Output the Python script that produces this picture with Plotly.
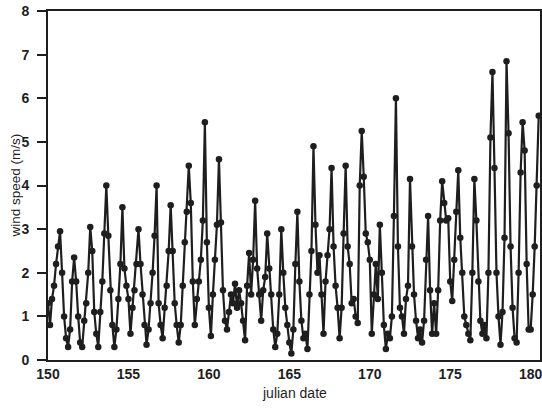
import plotly.graph_objects as go

# sampling: 3-hourly readings starting at julian day 150.0
start_day = 150.0
step_days = 0.125

# wind speed (m/s), 8 readings per day
speed = [
    # 150
    1.3, 0.8, 1.4, 1.7, 2.2, 2.6, 2.95, 2.0,
    # 151
    1.0, 0.5, 0.3, 0.7, 1.8, 2.35, 1.8, 1.0,
    # 152
    0.4, 0.3, 0.9, 1.3, 2.0, 3.05, 2.5, 1.1,
    # 153
    0.6, 0.3, 1.1, 1.8, 2.9, 4.0, 2.85, 1.6,
    # 154
    0.8, 0.3, 0.7, 1.4, 2.2, 3.5, 2.1, 1.7,
    # 155
    1.4, 0.6, 1.2, 1.6, 2.2, 3.0, 2.2, 1.5,
    # 156
    0.8, 0.35, 0.7, 1.3, 2.0, 2.85, 4.0, 1.3,
    # 157
    0.8, 0.5, 1.2, 1.7, 2.5, 3.55, 2.5, 1.3,
    # 158
    0.8, 0.4, 0.8, 1.7, 2.7, 3.4, 4.45, 3.6,
    # 159
    1.8, 0.8, 1.4, 1.8, 2.3, 3.2, 5.45, 2.7,
    # 160
    1.2, 0.55, 1.5, 2.3, 3.1, 4.6, 3.15, 1.6,
    # 161
    0.9, 0.7, 1.1, 1.5, 1.3, 1.75, 1.2, 1.6,
    # 162
    1.3, 0.9, 0.45, 1.7, 2.45, 1.5, 2.3, 3.65,
    # 163
    2.1, 1.5, 0.9, 1.6, 1.9, 2.9, 2.1, 1.5,
    # 164
    0.7, 0.3, 0.6, 1.5, 3.0, 2.0, 1.2, 0.8,
    # 165
    0.4, 0.15, 0.7, 2.2, 3.4, 1.8, 0.9, 0.5,
    # 166
    0.6, 0.25, 1.5, 2.5, 4.9, 3.1, 2.0, 2.4,
    # 167
    1.5, 0.6, 1.8, 2.4, 3.0, 4.4, 2.6, 1.7,
    # 168
    1.2, 0.5, 1.2, 2.9, 4.45, 2.6, 2.2, 1.3,
    # 169
    1.4, 1.0, 0.85, 4.0, 5.25, 4.2, 2.9, 2.7,
    # 170
    2.3, 0.6, 1.5, 2.2, 1.4, 3.1, 2.0, 0.8,
    # 171
    0.25, 0.6, 0.5, 1.0, 3.3, 6.0, 2.6, 1.2,
    # 172
    1.0, 0.6, 1.4, 1.7, 4.15, 2.6, 1.5, 0.9,
    # 173
    0.5, 0.7, 0.4, 0.9, 2.3, 3.3, 1.6, 0.6,
    # 174
    1.3, 0.6, 1.6, 3.2, 4.1, 3.6, 3.2, 3.25,
    # 175
    1.8, 1.35, 2.3, 3.4, 4.35, 2.8, 2.0, 1.0,
    # 176
    0.8, 0.6, 0.45, 2.0, 4.15, 3.2, 1.8, 0.9,
    # 177
    0.6, 0.8, 0.5, 2.0, 5.1, 6.6, 4.4, 2.0,
    # 178
    1.0, 0.35, 1.1, 2.8, 6.85, 5.2, 2.6, 1.2,
    # 179
    0.5, 0.4, 2.0, 4.3, 5.45, 4.8, 2.2, 0.7,
    # 180
    0.7, 1.5, 2.6, 4.0, 5.6,
]

julian = [start_day + i * step_days for i in range(len(speed))]

x_ticks = [150, 155, 160, 165, 170, 175, 180]
y_ticks = [0, 1, 2, 3, 4, 5, 6, 7, 8]

ink = "#1e1e1e"
font_family = "Liberation Sans, Arial, sans-serif"

fig = go.Figure(
    go.Scatter(
        x=julian,
        y=speed,
        mode="lines+markers",
        line=dict(color=ink, width=2.2),
        marker=dict(color=ink, size=6.5),
        showlegend=False,
    )
)

fig.update_layout(
    width=542,
    height=408,
    margin=dict(l=48, r=2, t=11, b=48),
    paper_bgcolor="white",
    plot_bgcolor="white",
    font=dict(family=font_family, color=ink, size=14),
    annotations=[
        dict(
            text="wind speed (m/s)",
            xref="paper", yref="paper",
            x=0, y=0.5, xshift=-33,
            xanchor="center", yanchor="middle",
            textangle=-90,
            showarrow=False,
            font=dict(size=13.5, color=ink),
        ),
        dict(
            text="julian date",
            xref="paper", yref="paper",
            x=0.5, y=0, yshift=-33,
            xanchor="center", yanchor="middle",
            showarrow=False,
            font=dict(size=14, color=ink),
        ),
    ],
)

fig.update_xaxes(
    range=[150, 180.58],
    tickvals=x_ticks,
    ticktext=[str(v) for v in x_ticks],
    ticks="",
    ticklabeloverflow="allow",
    automargin=False,
    showgrid=False,
    zeroline=False,
    showline=True,
    linecolor=ink,
    linewidth=2,
    mirror=True,
    tickfont=dict(size=14, color=ink, weight="bold"),
)

fig.update_yaxes(
    range=[0, 8],
    tickvals=y_ticks,
    ticktext=[str(v) for v in y_ticks],
    ticks="outside",
    ticklen=9,
    tickwidth=1.5,
    tickcolor=ink,
    ticklabelstandoff=5,
    automargin=False,
    showgrid=False,
    zeroline=False,
    showline=True,
    linecolor=ink,
    linewidth=2,
    mirror=True,
    tickfont=dict(size=14, color=ink, weight="bold"),
)

fig.write_html(
    "out.html",
    config={"displayModeBar": False},
    post_script="document.body.style.margin='0';document.body.style.overflow='hidden';",
)
